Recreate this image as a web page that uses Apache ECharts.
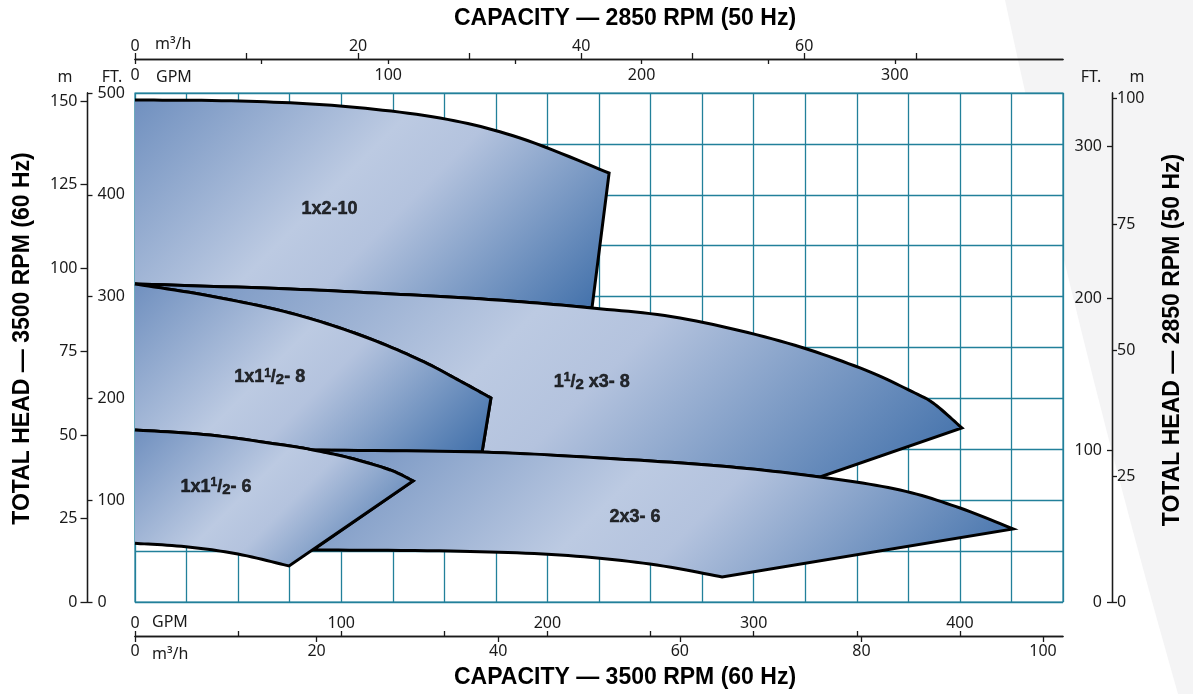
<!DOCTYPE html>
<html>
<head>
<meta charset="utf-8">
<script src="https://cdn.jsdelivr.net/npm/echarts/dist/echarts.min.js"></script>
<style>
  html, body { margin: 0; padding: 0; background: #ffffff; }
  #chart { width: 1193px; height: 694px; }
</style>
</head>
<body>
<div id="chart"></div>
<script>
// ---------------- DATA (x = GPM at 3500 RPM, y = FT at 3500 RPM) ----------------
// each region = list of boundary edges, each edge = list of [GPM, FT] points
const region_1x2_10 = [
  [[0,493.1],[50.9,492.1],[99.4,487.2],[147.9,475.4],[186.7,455.8],[229.9,421.4]],
  [[229.9,421.4],[221.6,288.8]],
  [[221.6,288.8],[175.4,296.7],[124.6,302.6],[75.2,307.5],[0,312.4]]
];
const region_1h_x3_8 = [
  [[0,312.4],[75.2,307.5],[124.6,302.6],[175.4,296.7],[221.6,288.8],[264.3,279],[312.8,256.4],[351.6,229.9],[378.2,205.3],[387.9,194.1],[401,170.9]],
  [[401,170.9],[332.2,122.8]],
  [[332.2,122.8],[283.7,133.6],[225.5,141.5],[168.3,147.3]],
  [[168.3,147.3],[172.6,200.4]],
  [[172.6,200.4],[157.6,217.1],[138.2,237.7],[109.1,262.3],[75.2,283.9],[36.4,300.6],[0,312.4]]
];
const region_1x1h_8 = [
  [[0,312.4],[36.4,300.6],[75.2,283.9],[109.1,262.3],[138.2,237.7],[157.6,217.1],[172.6,200.4]],
  [[172.6,200.4],[168.3,147.3]],
  [[168.3,147.3],[86.3,149.3]],
  [[86.3,149.3],[75.2,153.2],[36.4,164],[0,169]]
];
const region_2x3_6 = [
  [[86.3,149.3],[168.3,147.3],[225.5,141.5],[283.7,133.6],[332.2,122.8],[371,110],[400.1,92.3],[425.8,71.7]],
  [[425.8,71.7],[284.7,24.6]],
  [[284.7,24.6],[249.7,37.3],[206,46.2],[152.8,50.1],[86.3,51.1]],
  [[86.3,51.1],[134.8,118.9]],
  [[134.8,118.9],[123.7,129.7],[104.2,141.5],[86.3,149.3]]
];
const region_1x1h_6 = [
  [[0,169],[36.4,164],[75.2,153.2],[86.3,149.3],[104.2,141.5],[123.7,129.7],[134.8,118.9]],
  [[134.8,118.9],[74.7,35.4]],
  [[74.7,35.4],[49.9,47.1],[24.7,54.3],[0,57.6]]
];

// label anchors [x GPM, y FT] and texts (rich markup for the fractions)
const labelNames = ['{n|1x2-10}', '{n|1x1}{s|1}{n|/}{d|2}{n|- 8}', '{n|1}{s|1}{n|/}{d|2}{n| x3- 8}', '{n|1x1}{s|1}{n|/}{d|2}{n|- 6}', '{n|2x3- 6}'];
const labelX = [94.3, 65.3, 221.5, 39.3, 242.5];
const labelY = [386, 220.5, 216, 113, 83.5];

// axis ranges
const gpm60Max = 450;            // bottom axis, GPM @3500
const m3h60Max = 102.2;          // bottom axis, m3/h @3500
const gpm50Max = 366.4;          // top axis, GPM @2850
const m3h50Max = 83.2;           // top axis, m3/h @2850
const ft60Max = 500, m60Max = 152.4;
const ft50Max = 335, m50Max = 101;

// tick values / labels
const gpm60Ticks = [0,50,100,150,200,250,300,350,400];
const gpm60Labels = [0,100,200,300,400];
const m3h60Ticks = [0,20,40,60,80,100];
const m3h60Labels = [0,20,40,60,80,100];
const gpm50Ticks = [0,50,100,150,200,250,300];
const gpm50Labels = [0,100,200,300];
const m3h50Ticks = [0,10,20,30,40,50,60,70];
const m3h50Labels = [0,20,40,60];
const ft60Ticks = [0,100,200,300,400,500];
const m60Ticks = [0,25,50,75,100,125,150];
const ft50Ticks = [0,100,200,300];
const m50Ticks = [0,25,50,75,100];

// ---------------- STYLE ----------------
const GRID = '#22809a';
const AXC = '#1a1a1a';
const tickFont = { fontFamily: 'Noto Sans', fontSize: 16, color: '#1a1a1a' };
const titleFont = 'bold 23px "Liberation Sans", Arial, sans-serif';
const unitFont = '16px "Noto Sans", sans-serif';

// decorative light-grey sweep in the page background (quadratic curve sampled)
function sweepPoints() {
  const p0 = [1005, 0], c = [1080, 350], p1 = [1178, 694];
  const pts = [];
  for (let i = 0; i <= 40; i++) {
    const t = i / 40, u = 1 - t;
    pts.push([u * u * p0[0] + 2 * u * t * c[0] + t * t * p1[0], u * u * p0[1] + 2 * u * t * c[1] + t * t * p1[1]]);
  }
  pts.push([1193, 694], [1193, 0]);
  return pts;
}

// Catmull-Rom sampling of a pixel polyline (smooth curve through the given points)
function smoothEdge(p) {
  if (p.length < 3) return p.slice();
  const out = [p[0]];
  const steps = 12;
  for (let i = 0; i < p.length - 1; i++) {
    const p0 = p[Math.max(0, i - 1)], p1 = p[i], p2 = p[i + 1], p3 = p[Math.min(p.length - 1, i + 2)];
    for (let s = 1; s <= steps; s++) {
      const t = s / steps, t2 = t * t, t3 = t2 * t;
      const f = function (a, b, c, d) {
        return 0.5 * ((2 * b) + (-a + c) * t + (2 * a - 5 * b + 4 * c - d) * t2 + (-a + 3 * b - 3 * c + d) * t3);
      };
      out.push([f(p0[0], p1[0], p2[0], p3[0]), f(p0[1], p1[1], p2[1], p3[1])]);
    }
  }
  return out;
}

function flatten(edges) {
  const d = [];
  edges.forEach(function (e, k) { e.forEach(function (p) { d.push([p[0], p[1], k]); }); });
  return d;
}

const chart = echarts.init(document.getElementById('chart'), null, { renderer: 'canvas' });

function regionSeries(name, edges, z) {
  return {
    type: 'custom', name: name, xAxisIndex: 0, yAxisIndex: 0, z: z,
    silent: true, animation: false, clip: false,
    data: flatten(edges),
    renderItem: function (params, api) {
      if (params.dataIndexInside !== 0) return null;
      const n = params.dataInsideLength;
      const groups = [];
      for (let i = 0; i < n; i++) {
        const k = api.value(2, i);
        if (!groups[k]) groups[k] = [];
        groups[k].push(api.coord([api.value(0, i), api.value(1, i)]));
      }
      let pts = [];
      groups.forEach(function (g, gi) {
        const s = smoothEdge(g);
        pts = pts.concat(gi === 0 ? s : s.slice(1));
      });
      let x0 = Infinity, y0 = Infinity, x1 = -Infinity, y1 = -Infinity;
      pts.forEach(function (p) { x0 = Math.min(x0, p[0]); y0 = Math.min(y0, p[1]); x1 = Math.max(x1, p[0]); y1 = Math.max(y1, p[1]); });
      const L = ((x1 - x0) + (y1 - y0)) / 2;
      const fill = new echarts.graphic.LinearGradient(x0, y0, x0 + L, y0 + L, [
        { offset: 0, color: '#7090bf' },
        { offset: 0.42, color: '#bccae2' },
        { offset: 0.55, color: '#b4c3de' },
        { offset: 1, color: '#3d6da8' }
      ], true);
      return {
        type: 'group',
        children: [
          { type: 'polygon', shape: { points: pts }, style: { fill: fill, stroke: null } },
          { type: 'polyline', shape: { points: pts }, style: { fill: null, stroke: '#000', lineWidth: 3, lineJoin: 'miter', miterLimit: 6 } }
        ]
      };
    }
  };
}

function ax(opt) {
  return Object.assign({
    type: 'value', gridIndex: 0,
    axisLine: { show: true, onZero: false, lineStyle: { color: AXC, width: 1.3 } },
    splitLine: { show: false }
  }, opt);
}

const labelFontBase = { fontFamily: '"Liberation Sans", Arial, sans-serif', fontWeight: 'bold', color: '#000', textBorderColor: '#000', textBorderWidth: 0.5 };

const option = {
  animation: false,
  backgroundColor: '#ffffff',
  grid: { left: 135, top: 93, width: 928, height: 509, show: true, backgroundColor: '#ffffff', borderColor: GRID, borderWidth: 1.2 },
  graphic: [
    { type: 'polygon', z: -10, silent: true, shape: { points: sweepPoints() }, style: { fill: '#f4f4f5' } },
    { type: 'text', x: 625, y: 18.5, style: { text: 'CAPACITY — 2850 RPM (50 Hz)', font: titleFont, align: 'center', verticalAlign: 'middle', fill: '#000' } },
    { type: 'text', x: 625, y: 677.5, style: { text: 'CAPACITY — 3500 RPM (60 Hz)', font: titleFont, align: 'center', verticalAlign: 'middle', fill: '#000' } },
    { type: 'text', x: 23, y: 338.5, rotation: Math.PI / 2, style: { text: 'TOTAL HEAD — 3500 RPM (60 Hz)', font: titleFont, align: 'center', verticalAlign: 'middle', fill: '#000' } },
    { type: 'text', x: 1173, y: 340, rotation: Math.PI / 2, style: { text: 'TOTAL HEAD — 2850 RPM (50 Hz)', font: titleFont, align: 'center', verticalAlign: 'middle', fill: '#000' } },
    { type: 'text', x: 65, y: 77.5, style: { text: 'm', font: unitFont, align: 'center', verticalAlign: 'middle', fill: '#1a1a1a' } },
    { type: 'text', x: 112, y: 77.5, style: { text: 'FT.', font: unitFont, align: 'center', verticalAlign: 'middle', fill: '#1a1a1a' } },
    { type: 'text', x: 156, y: 77.5, style: { text: 'GPM', font: unitFont, align: 'left', verticalAlign: 'middle', fill: '#1a1a1a' } },
    { type: 'text', x: 155, y: 44, style: { text: 'm³/h', font: unitFont, align: 'left', verticalAlign: 'middle', fill: '#1a1a1a' } },
    { type: 'text', x: 152, y: 622.5, style: { text: 'GPM', font: unitFont, align: 'left', verticalAlign: 'middle', fill: '#1a1a1a' } },
    { type: 'text', x: 152, y: 654, style: { text: 'm³/h', font: unitFont, align: 'left', verticalAlign: 'middle', fill: '#1a1a1a' } },
    { type: 'text', x: 1091, y: 77.5, style: { text: 'FT.', font: unitFont, align: 'center', verticalAlign: 'middle', fill: '#1a1a1a' } },
    { type: 'text', x: 1137, y: 77.5, style: { text: 'm', font: unitFont, align: 'center', verticalAlign: 'middle', fill: '#1a1a1a' } }
  ],
  xAxis: [
    { type: 'value', min: 0, max: gpm60Max, interval: 25, position: 'bottom',
      axisLine: { show: false, onZero: false }, axisTick: { show: false }, axisLabel: { show: false },
      splitLine: { show: true, lineStyle: { color: GRID, width: 1.3 } } },
    ax({ min: 0, max: gpm60Max, position: 'bottom', offset: 34,
      axisTick: { show: true, inside: true, length: 5, customValues: gpm60Ticks, lineStyle: { color: AXC, width: 1.3 } },
      axisLabel: Object.assign({ show: true, inside: true, margin: 5, customValues: gpm60Labels }, tickFont) }),
    ax({ min: 0, max: m3h60Max, position: 'bottom', offset: 34,
      axisTick: { show: true, inside: false, length: 6, customValues: m3h60Ticks, lineStyle: { color: AXC, width: 1.3 } },
      axisLabel: Object.assign({ show: true, inside: false, margin: 7, customValues: m3h60Labels }, tickFont) }),
    ax({ min: 0, max: gpm50Max, position: 'top', offset: 34,
      axisTick: { show: true, inside: true, length: 5, customValues: gpm50Ticks, lineStyle: { color: AXC, width: 1.3 } },
      axisLabel: Object.assign({ show: true, inside: true, margin: 8, customValues: gpm50Labels }, tickFont) }),
    ax({ min: 0, max: m3h50Max, position: 'top', offset: 34,
      axisTick: { show: true, inside: false, length: 6, customValues: m3h50Ticks, lineStyle: { color: AXC, width: 1.3 } },
      axisLabel: Object.assign({ show: true, inside: false, margin: 5, customValues: m3h50Labels }, tickFont) })
  ],
  yAxis: [
    { type: 'value', min: 0, max: ft60Max, interval: 50, position: 'left',
      axisLine: { show: false, onZero: false }, axisTick: { show: false }, axisLabel: { show: false },
      splitLine: { show: true, lineStyle: { color: GRID, width: 1.3 } } },
    ax({ min: 0, max: ft60Max, position: 'left', offset: 47.5,
      axisTick: { show: true, inside: true, length: 5, customValues: ft60Ticks, lineStyle: { color: AXC, width: 1.3 } },
      axisLabel: Object.assign({ show: true, inside: true, margin: 10, customValues: ft60Ticks }, tickFont) }),
    ax({ min: 0, max: m60Max, position: 'left', offset: 47.5,
      axisTick: { show: true, inside: false, length: 7, customValues: m60Ticks, lineStyle: { color: AXC, width: 1.3 } },
      axisLabel: Object.assign({ show: true, inside: false, margin: 10, customValues: m60Ticks }, tickFont) }),
    ax({ min: 0, max: ft50Max, position: 'right', offset: 49,
      axisTick: { show: true, inside: true, length: 5, customValues: ft50Ticks, lineStyle: { color: AXC, width: 1.3 } },
      axisLabel: Object.assign({ show: true, inside: true, margin: 10, customValues: ft50Ticks }, tickFont) }),
    ax({ min: 0, max: m50Max, position: 'right', offset: 49,
      axisTick: { show: true, inside: false, length: 5, customValues: m50Ticks, lineStyle: { color: AXC, width: 1.3 } },
      axisLabel: Object.assign({ show: true, inside: false, margin: 5, customValues: m50Ticks }, tickFont) })
  ],
  series: [
    regionSeries('1x2-10', region_1x2_10, 2),
    regionSeries('1 1/2 x3-8', region_1h_x3_8, 3),
    regionSeries('1x1 1/2-8', region_1x1h_8, 4),
    regionSeries('2x3-6', region_2x3_6, 5),
    regionSeries('1x1 1/2-6', region_1x1h_6, 6),
    {
      type: 'scatter', xAxisIndex: 0, yAxisIndex: 0, z: 20, silent: true, symbolSize: 0,
      data: labelX.map(function (x, i) { return { value: [x, labelY[i]], label: { formatter: labelNames[i] } }; }),
      label: {
        show: true, position: 'inside', color: '#000',
        rich: {
          n: Object.assign({ fontSize: 18, lineHeight: 20 }, labelFontBase),
          s: Object.assign({ fontSize: 12, lineHeight: 20, verticalAlign: 'top' }, labelFontBase),
          d: Object.assign({ fontSize: 15, lineHeight: 20, verticalAlign: 'bottom' }, labelFontBase)
        }
      }
    }
  ]
};
chart.setOption(option);
</script>
</body>
</html>
